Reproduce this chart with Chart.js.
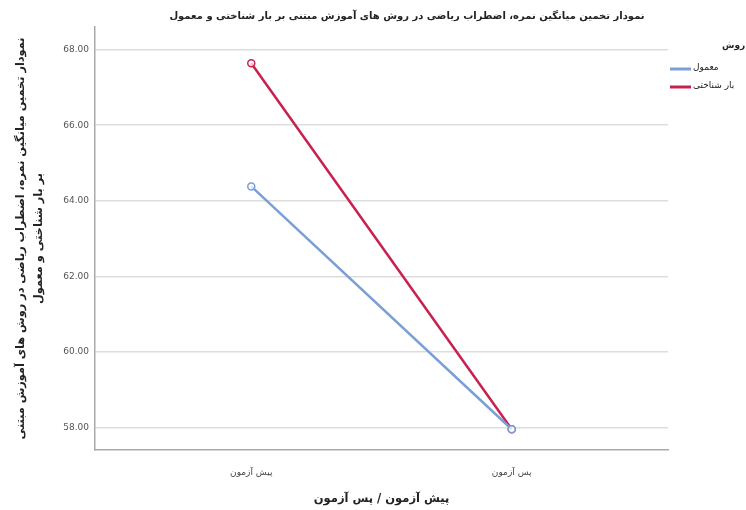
<!DOCTYPE html>
<html>
<head>
<meta charset="utf-8">
<script src="https://cdn.jsdelivr.net/npm/chart.js@4/dist/chart.umd.min.js"></script>
<style>
  body { margin: 0; background: #fff; }
</style>
</head>
<body>
<canvas id="chart" width="746" height="510"></canvas>
<script>
const chartTitle = 'نمودار تخمین میانگین نمره، اضطراب ریاضی در روش های آموزش مبتنی بر بار شناختی و معمول';
const yTitle = ['نمودار تخمین میانگین نمره، اضطراب ریاضی در روش های آموزش مبتنی', 'بر بار شناختی و معمول'];
const xTitle = 'پیش آزمون / پس آزمون';
const legendTitle = 'روش';
const phases = ['پیش آزمون', 'پس آزمون'];
const methods = ['معمول', 'بار شناختی'];
const usualMeans = [64.38, 57.95];
const cognitiveMeans = [67.64, 57.95];
const yTicks = [58, 60, 62, 64, 66, 68];
const colors = ['#7a9fd6', '#c8204f'];

const FONT = "'DejaVu Sans', 'Liberation Sans', sans-serif";

const series = [usualMeans, cognitiveMeans];

// title + legend drawn by hand, the original sits off-centre and runs off the edge
const extras = {
  id: 'extras',
  afterDraw(chart) {
    const { ctx, chartArea } = chart;
    ctx.save();
    ctx.fillStyle = '#222';
    ctx.textBaseline = 'middle';
    ctx.font = 'bold 10px ' + FONT;
    ctx.textAlign = 'center';
    ctx.fillText(chartTitle, 407, 16);

    ctx.textAlign = 'left';
    ctx.font = 'bold 9px ' + FONT;
    ctx.fillText(legendTitle, chartArea.right + 54, 46);
    ctx.font = '9px ' + FONT;
    methods.forEach((m, i) => {
      const y = 69 + i * 18;
      ctx.strokeStyle = colors[i];
      ctx.lineWidth = 3;
      ctx.beginPath();
      ctx.moveTo(chartArea.right + 2, y);
      ctx.lineTo(chartArea.right + 23, y);
      ctx.stroke();
      ctx.fillStyle = '#222';
      ctx.fillText(m, chartArea.right + 25, y - 1);
    });
    ctx.restore();
  }
};

new Chart(document.getElementById('chart'), {
  type: 'line',
  data: {
    datasets: series.map((vals, i) => ({
      label: methods[i],
      data: phases.map((p, j) => ({ x: j, y: vals[j] })),
      borderColor: colors[i],
      borderWidth: 2.5,
      pointRadius: 3.5,
      pointBorderWidth: 1.5,
      pointBorderColor: colors[i],
      pointBackgroundColor: 'rgba(255,255,255,0.7)',
      tension: 0
    }))
  },
  options: {
    responsive: false,
    animation: false,
    layout: { padding: { top: 27, right: 78, bottom: 0, left: 0 } },
    plugins: {
      legend: { display: false },
      tooltip: { enabled: false },
      title: { display: false }
    },
    scales: {
      x: {
        type: 'linear',
        min: -0.6,
        max: 1.6,
        afterBuildTicks: s => { s.ticks = phases.map((p, i) => ({ value: i })); },
        afterFit: s => { s.height = 60; },
        grid: { display: false, drawTicks: false },
        border: { display: true, color: '#aaa', width: 1.5 },
        ticks: {
          callback: v => phases[v],
          color: '#444',
          padding: 17,
          font: { family: FONT, size: 9 }
        },
        title: {
          display: true,
          text: xTitle,
          color: '#222',
          font: { family: FONT, size: 11.5, weight: 'bold' },
          padding: { top: 2 }
        }
      },
      y: {
        min: 57.4,
        max: 68.6,
        afterBuildTicks: s => { s.ticks = yTicks.map(v => ({ value: v })); },
        afterFit: s => { s.width = 95; },
        grid: { color: '#ddd', lineWidth: 1.5, drawTicks: false },
        border: { display: true, color: '#aaa', width: 1.5 },
        ticks: {
          callback: v => v.toFixed(2),
          color: '#555',
          padding: 6,
          font: { family: FONT, size: 9 }
        },
        title: {
          display: true,
          text: yTitle,
          color: '#222',
          font: { family: FONT, size: 11.3, weight: 'bold', lineHeight: 1.6 },
          padding: { top: 12 }
        }
      }
    }
  },
  plugins: [extras]
});
</script>
</body>
</html>
